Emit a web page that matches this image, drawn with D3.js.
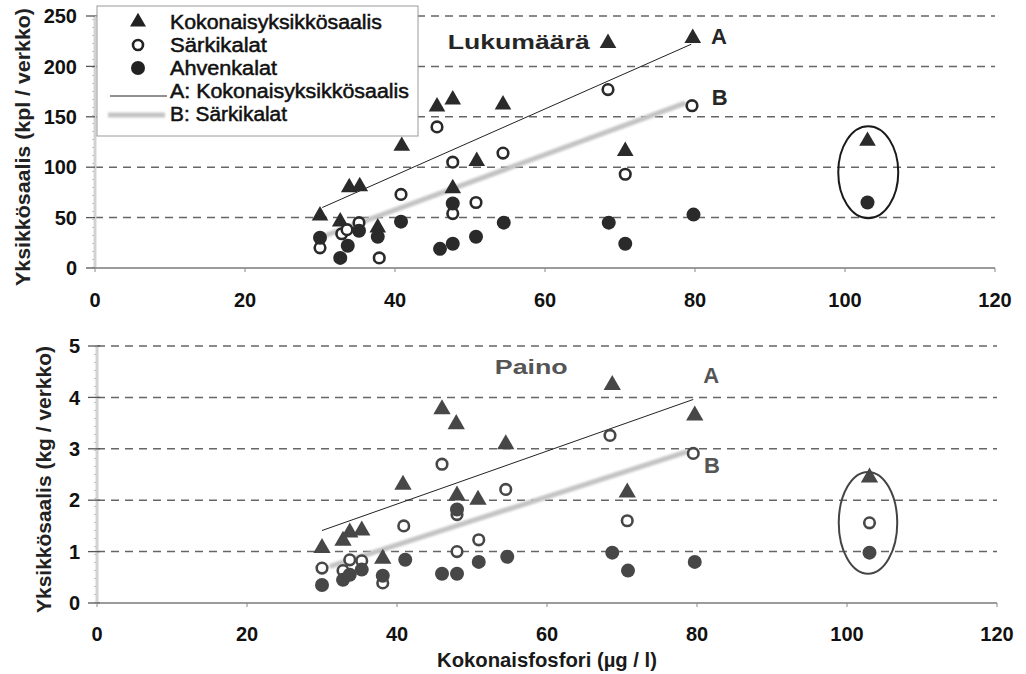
<!DOCTYPE html>
<html>
<head>
<meta charset="utf-8">
<script src="https://cdn.jsdelivr.net/npm/d3@7"></script>
<style>
  body { margin: 0; background: #fff; }
  svg text { font-family: "Liberation Sans", Arial, Helvetica, sans-serif; }
</style>
</head>
<body>
<div id="chart"></div>
<script>
// --- DATA ---
// Tick values
const xTicks = [0, 20, 40, 60, 80, 100, 120];
const countTicks = [0, 50, 100, 150, 200, 250];
const weightTicks = [0, 1, 2, 3, 4, 5];

// Lukumäärä (kpl / verkko): [kokonaisfosfori, saalis]
const countTotal = [[30, 52], [32.7, 46], [33.9, 80], [35.3, 81], [37.7, 40], [40.9, 121], [45.6, 160],
  [47.7, 167], [47.7, 79], [50.9, 106], [54.4, 162], [68.4, 223], [70.7, 116], [79.7, 228]];
const countRoach = [[30, 20], [32.9, 34], [33.6, 38], [35.2, 45], [37.9, 10], [40.8, 73], [45.6, 140],
  [47.7, 105], [47.7, 54], [50.8, 65], [54.4, 114], [68.4, 177], [70.7, 93], [79.6, 161]];
const countPerch = [[30, 30], [32.7, 10], [33.7, 22], [35.2, 37], [37.7, 31], [40.8, 46], [46, 19],
  [47.7, 24], [47.7, 64], [50.8, 31], [54.5, 45], [68.5, 45], [70.7, 24], [79.8, 53]];
// Circled lake (outlier)
const countOutTotal = [[103, 126]];
const countOutRoach = [];
const countOutPerch = [[103, 65]];
// Regression lines A and B
const countLineA = [[30.3, 60], [79.5, 222]];
const countLineB = [[31, 33], [78.5, 163]];

// Paino (kg / verkko)
const weightTotal = [[30, 1.07], [32.8, 1.21], [33.7, 1.37], [35.3, 1.41], [38.1, 0.86], [40.8, 2.3], [46, 3.77],
  [47.9, 3.48], [48, 2.09], [50.8, 2.01], [54.5, 3.09], [68.7, 4.24], [70.7, 2.15], [79.7, 3.65]];
const weightRoach = [[30, 0.68], [32.8, 0.63], [33.7, 0.84], [35.3, 0.82], [38.1, 0.39], [40.9, 1.5], [46, 2.7],
  [48, 1.0], [48, 1.72], [50.9, 1.23], [54.5, 2.21], [68.4, 3.26], [70.7, 1.6], [79.5, 2.91]];
const weightPerch = [[30, 0.35], [32.8, 0.45], [33.7, 0.55], [35.3, 0.65], [38.1, 0.53], [41.1, 0.84], [46, 0.57],
  [48, 0.57], [48, 1.82], [50.9, 0.8], [54.7, 0.9], [68.7, 0.98], [70.8, 0.63], [79.7, 0.8]];
const weightOutTotal = [[103, 2.44]];
const weightOutRoach = [[103, 1.56]];
const weightOutPerch = [[103, 0.98]];
const weightLineA = [[30, 1.41], [79.5, 3.96]];
const weightLineB = [[31.3, 0.72], [78.4, 2.93]];

// --- LAYOUT ---
const W = 1026, H = 674;

const panels = [
  {
    xRange: [95, 995], yRange: [268, 16], yMax: 250, yTicks: countTicks,
    total: countTotal.concat(countOutTotal), roach: countRoach.concat(countOutRoach), perch: countPerch.concat(countOutPerch),
    lineA: countLineA, lineB: countLineB,
    ring: { x: 103.1, y: 95, rx: 4, ry: 45.6, stroke: "#1a1a1a" },
    ink: "#2a2a2a", textInk: "#262626", triSize: 120,
    title: "Lukumäärä", titleAt: [56.5, 225], titleLen: 142,
    labelA: [83.2, 230], labelB: [83.3, 169.5],
    yTitle: "Yksikkösaalis (kpl / verkko)", yTitleX: 23, yTitleLen: 278,
    tickLabelX: 18, tickOut: 9, tickIn: 0, xLabelOffset: 39
  },
  {
    xRange: [97, 997], yRange: [603, 346], yMax: 5, yTicks: weightTicks,
    total: weightTotal.concat(weightOutTotal), roach: weightRoach.concat(weightOutRoach), perch: weightPerch.concat(weightOutPerch),
    lineA: weightLineA, lineB: weightLineB,
    ring: { x: 102.8, y: 1.56, rx: 3.9, ry: 0.99, stroke: "#444" },
    ink: "#474747", textInk: "#555", triSize: 130,
    title: "Paino", titleAt: [57.9, 4.61], titleLen: 73,
    labelA: [81.9, 4.44], labelB: [82, 2.68],
    yTitle: "Yksikkösaalis (kg / verkko)", yTitleX: 44, yTitleLen: 267,
    tickLabelX: 17, tickOut: 9, tickIn: 3, xLabelOffset: 38
  }
];

const svg = d3.select("#chart").append("svg")
  .attr("width", W).attr("height", H)
  .style("background", "#fff");

// soft blur for the grey regression line B (user space so flat lines work too)
svg.append("defs").append("filter").attr("id", "soft")
  .attr("filterUnits", "userSpaceOnUse")
  .attr("x", 0).attr("y", 0).attr("width", W).attr("height", H)
  .append("feGaussianBlur").attr("stdDeviation", 0.8);

// --- PANELS ---
function drawPanel(p) {
  const x = d3.scaleLinear().domain([0, 120]).range(p.xRange);
  const y = d3.scaleLinear().domain([0, p.yMax]).range(p.yRange);
  const g = svg.append("g");

  // dashed gridlines
  g.selectAll(".grid").data(p.yTicks.filter(t => t > 0)).enter().append("line")
    .attr("x1", x(0)).attr("x2", x(120))
    .attr("y1", d => y(d)).attr("y2", d => y(d))
    .attr("stroke", "#666").attr("stroke-width", 1.5)
    .attr("stroke-dasharray", "8,6");

  // y axis line (faint)
  g.append("line")
    .attr("x1", x(0)).attr("x2", x(0)).attr("y1", y(0)).attr("y2", y(p.yMax))
    .attr("stroke", "#d2d2d2").attr("stroke-width", 3);
  g.append("line")
    .attr("x1", x(0) - 2).attr("x2", x(0) - 2).attr("y1", y(0)).attr("y2", y(p.yMax))
    .attr("stroke", "#999").attr("stroke-width", 1).attr("stroke-dasharray", "1,7");

  // y ticks + labels
  g.selectAll(".ytick").data(p.yTicks).enter().append("line")
    .attr("x1", x(0) - p.tickOut).attr("x2", x(0) + p.tickIn)
    .attr("y1", d => y(d)).attr("y2", d => y(d))
    .attr("stroke", "#555").attr("stroke-width", 1.3);
  g.selectAll(".ylab").data(p.yTicks).enter().append("text")
    .attr("x", x(0) - p.tickLabelX).attr("y", d => y(d)).attr("dy", "0.36em")
    .attr("text-anchor", "end")
    .style("font-size", "20px").style("font-weight", "bold").attr("fill", "#111")
    .text(d => d);

  // x axis
  g.append("line")
    .attr("x1", x(0)).attr("x2", x(120)).attr("y1", y(0)).attr("y2", y(0))
    .attr("stroke", "#7a7a7a").attr("stroke-width", 1.6);
  g.selectAll(".xtick").data(xTicks).enter().append("line")
    .attr("x1", d => x(d)).attr("x2", d => x(d))
    .attr("y1", y(0)).attr("y2", y(0) + 4)
    .attr("stroke", "#888").attr("stroke-width", 1);
  g.selectAll(".xlab").data(xTicks).enter().append("text")
    .attr("x", d => x(d)).attr("y", y(0) + p.xLabelOffset)
    .attr("text-anchor", "middle")
    .style("font-size", "20px").style("font-weight", "bold").attr("fill", "#111")
    .text(d => d);

  // y title
  g.append("text")
    .attr("transform", `translate(${p.yTitleX},${(p.yRange[0] + p.yRange[1]) / 2 + 5}) rotate(-90)`)
    .attr("text-anchor", "middle").attr("dy", "0.36em")
    .attr("textLength", p.yTitleLen).attr("lengthAdjust", "spacingAndGlyphs")
    .style("font-size", "20px").style("font-weight", "bold").attr("fill", "#222")
    .text(p.yTitle);

  // regression lines
  const line = d3.line().x(d => x(d[0])).y(d => y(d[1]));
  g.append("path").datum(p.lineB).attr("d", line)
    .attr("fill", "none").attr("stroke", "#c3c3c3").attr("stroke-width", 5)
    .attr("stroke-linecap", "round").attr("filter", "url(#soft)");
  g.append("path").datum(p.lineA).attr("d", line)
    .attr("fill", "none").attr("stroke", "#222").attr("stroke-width", 1);

  // markers
  const tri = d3.symbol().type(d3.symbolTriangle).size(p.triSize);
  g.selectAll(".tri").data(p.total).enter().append("path")
    .attr("d", tri).attr("transform", d => `translate(${x(d[0])},${y(d[1])})`)
    .attr("fill", p.ink);
  g.selectAll(".roach").data(p.roach).enter().append("circle")
    .attr("cx", d => x(d[0])).attr("cy", d => y(d[1])).attr("r", 5.3)
    .attr("fill", "#fff").attr("stroke", p.ink).attr("stroke-width", 2.6);
  g.selectAll(".perch").data(p.perch).enter().append("circle")
    .attr("cx", d => x(d[0])).attr("cy", d => y(d[1])).attr("r", 7)
    .attr("fill", p.ink);

  // circled outlier lake
  g.append("ellipse")
    .attr("cx", x(p.ring.x)).attr("cy", y(p.ring.y))
    .attr("rx", x(p.ring.x + p.ring.rx) - x(p.ring.x))
    .attr("ry", y(0) - y(p.ring.ry))
    .attr("fill", "none").attr("stroke", p.ring.stroke).attr("stroke-width", 2);

  // panel title and line labels
  g.append("text")
    .attr("x", x(p.titleAt[0])).attr("y", y(p.titleAt[1])).attr("dy", "0.36em")
    .attr("text-anchor", "middle")
    .attr("textLength", p.titleLen).attr("lengthAdjust", "spacingAndGlyphs")
    .style("font-size", "21px").style("font-weight", "bold").attr("fill", p.textInk)
    .text(p.title);
  [["A", p.labelA], ["B", p.labelB]].forEach(([t, pos]) => {
    g.append("text")
      .attr("x", x(pos[0])).attr("y", y(pos[1])).attr("dy", "0.36em")
      .attr("text-anchor", "middle")
      .style("font-size", "22px").style("font-weight", "bold").attr("fill", p.textInk)
      .text(t);
  });
}

panels.forEach(drawPanel);

// x axis title (shared)
svg.append("text")
  .attr("x", 547).attr("y", 660).attr("dy", "0.36em")
  .attr("text-anchor", "middle")
  .attr("textLength", 220).attr("lengthAdjust", "spacingAndGlyphs")
  .style("font-size", "20px").style("font-weight", "bold").attr("fill", "#1a1a1a")
  .text("Kokonaisfosfori (µg / l)");

// --- LEGEND ---
const legendItems = [
  { label: "Kokonaisyksikkösaalis", kind: "tri", len: 212 },
  { label: "Särkikalat", kind: "open", len: 97 },
  { label: "Ahvenkalat", kind: "dot", len: 107 },
  { label: "A: Kokonaisyksikkösaalis", kind: "lineA", len: 239 },
  { label: "B: Särkikalat", kind: "lineB", len: 117 }
];
const legend = svg.append("g");
legend.append("rect")
  .attr("x", 97).attr("y", 6).attr("width", 321).attr("height", 130)
  .attr("fill", "#fff").attr("stroke", "#9a9a9a").attr("stroke-width", 1);

const rowY = d3.scalePoint().domain(legendItems.map(d => d.label)).range([22, 114]);
legendItems.forEach(item => {
  const cy = rowY(item.label);
  if (item.kind === "tri") {
    legend.append("path").attr("d", d3.symbol().type(d3.symbolTriangle).size(110))
      .attr("transform", `translate(138,${cy})`).attr("fill", "#222");
  } else if (item.kind === "open") {
    legend.append("circle").attr("cx", 138).attr("cy", cy).attr("r", 5)
      .attr("fill", "#fff").attr("stroke", "#222").attr("stroke-width", 2.6);
  } else if (item.kind === "dot") {
    legend.append("circle").attr("cx", 138).attr("cy", cy).attr("r", 7).attr("fill", "#222");
  } else if (item.kind === "lineA") {
    legend.append("line").attr("x1", 110).attr("x2", 167).attr("y1", cy + 5).attr("y2", cy + 5)
      .attr("stroke", "#222").attr("stroke-width", 1);
  } else {
    legend.append("line").attr("x1", 108).attr("x2", 165).attr("y1", cy + 1).attr("y2", cy + 1)
      .attr("stroke", "#c3c3c3").attr("stroke-width", 5).attr("filter", "url(#soft)");
  }
  legend.append("text")
    .attr("x", 170).attr("y", cy).attr("dy", "0.36em")
    .attr("textLength", item.len).attr("lengthAdjust", "spacingAndGlyphs")
    .style("font-size", "20px").attr("fill", "#111")
    .style("stroke", "#111").style("stroke-width", 0.5)
    .text(item.label);
});
</script>
</body>
</html>
